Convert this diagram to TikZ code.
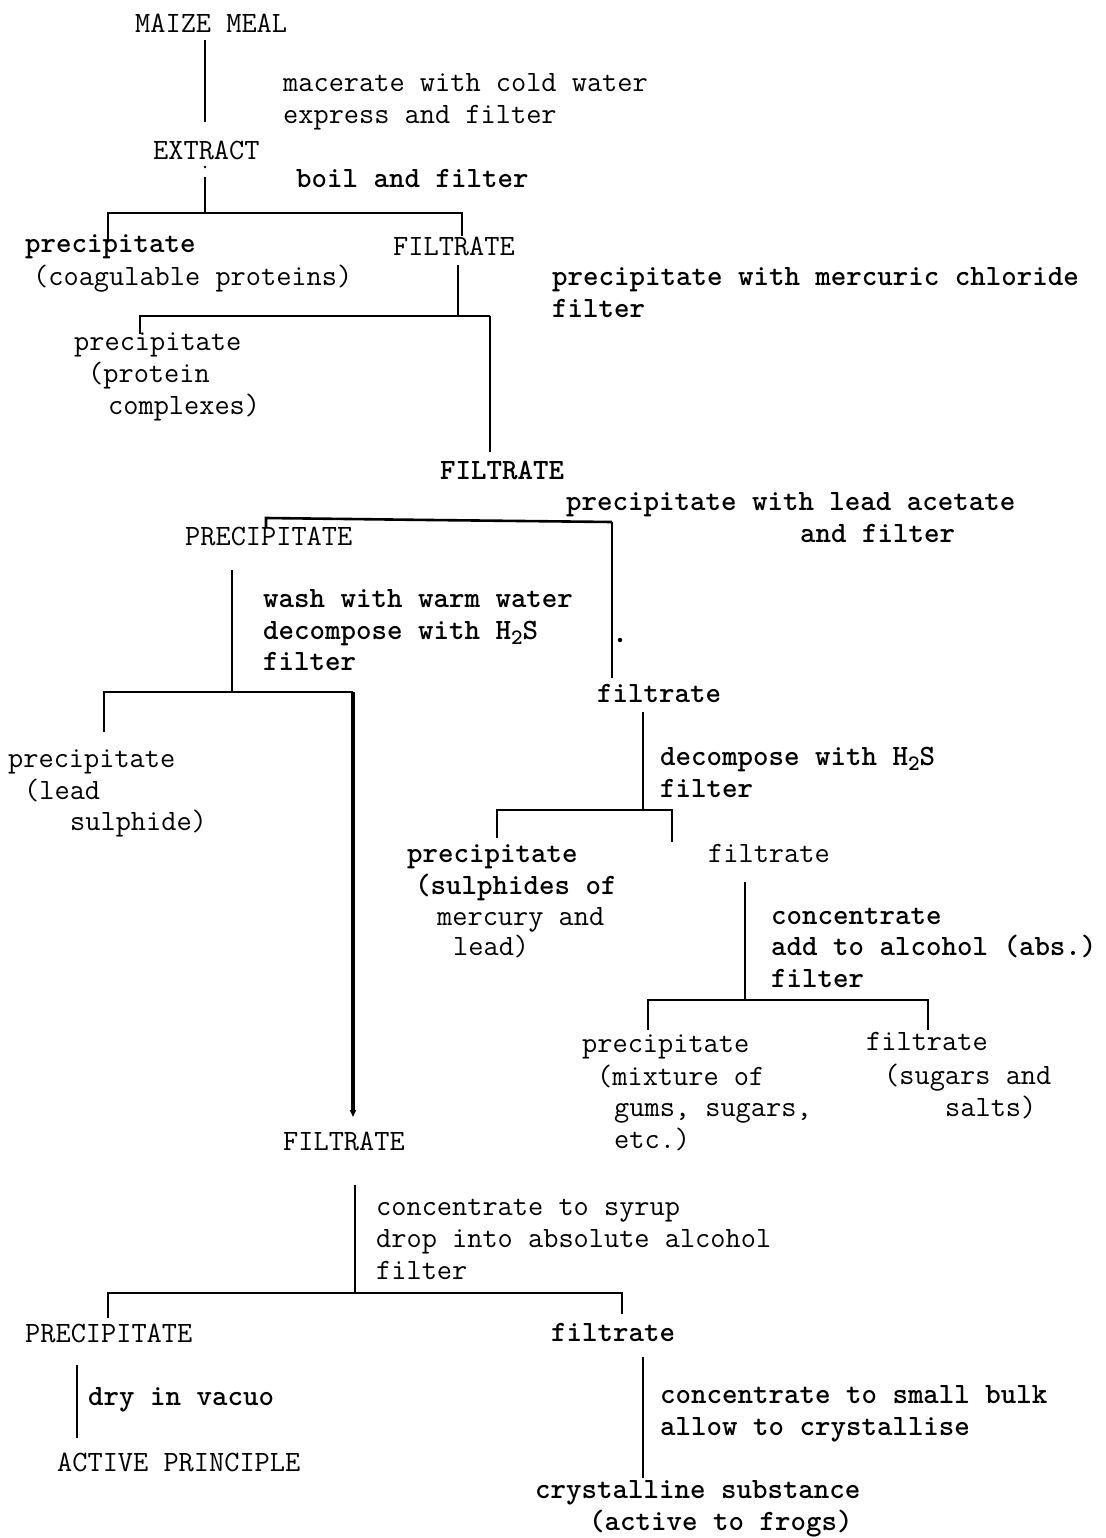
\documentclass[tikz,border=0pt]{standalone}
\usepackage{fontspec}
\usetikzlibrary{arrows.meta}
\newcommand\mysub[1]{\raisebox{-0.4ex}{\fontsize{22}{22}\selectfont #1}}
\begin{document}
\begin{tikzpicture}[x=1pt,y=-1pt,
  t/.style={anchor=base west,inner sep=0pt,font={\ttfamily\fontsize{29.5}{35}\selectfont}},
  tb/.style={anchor=base west,inner sep=0pt,font={\ttfamily\bfseries\fontsize{29.5}{35}\selectfont}},
  ln/.style={line width=2pt},
  bar/.style={line width=2.6pt,line join=miter},
  thick3/.style={line width=3.6pt}]
\fill[white] (0,0) rectangle (1105,1538);
\useasboundingbox (0,0) rectangle (1105,1538);
% texts
\node[t] (maize) at (135,33) {MAIZE MEAL};
\node[t] (s1a) at (283,92) {macerate with cold water};
\node[t] (s1b) at (283,124) {express and filter};
\node[t] (extract) at (153,160) {EXTRACT};
\node[tb] (s2) at (296,188) {boil and filter};
\node[tb] (p1) at (25,252) {precipitate};
\node[t] (p1b) at (33,285) {(coagulable proteins)};
\node[t] (f1) at (393,255) {FILTRATE};
\node[tb] (s3a) at (552,285) {precipitate with mercuric chloride};
\node[tb] (s3b) at (552,317) {filter};
\node[t] (p2) at (74,350) {precipitate};
\node[t] (p2b) at (88,382) {(protein};
\node[t] (p2c) at (108,414) {complexes)};
\node[tb] (f2) at (440,479) {FILTRATE};
\node[tb] (s4a) at (566,510) {precipitate with lead acetate};
\node[tb] (s4b) at (800,542) {and filter};
\node[t] (P3) at (185,545) {PRECIPITATE};
\node[tb] (s5a) at (263,607) {wash with warm water};
\node[tb] (s5b) at (263,639) {decompose with H\mysub{2}S};
\node[tb] (s5c) at (263,670) {filter};
\node[tb] (f3) at (597,702) {filtrate};
\node[tb] (s6a) at (660,765) {decompose with H\mysub{2}S};
\node[tb] (s6b) at (660,797) {filter};
\node[t] (p4) at (8,767) {precipitate};
\node[t] (p4b) at (24,799) {(lead};
\node[t] (p4c) at (70,830) {sulphide)};
\node[tb] (p5) at (407,862) {precipitate};
\node[tb] (p5b) at (415,894) {(sulphides of};
\node[t] (p5c) at (437,925) {mercury and};
\node[t] (p5d) at (453,955) {lead)};
\node[t] (f4) at (708,862) {filtrate};
\node[tb] (s7a) at (771,924) {concentrate};
\node[tb] (s7b) at (771,955) {add to alcohol (abs.)};
\node[tb] (s7c) at (771,987) {filter};
\node[t] (p6) at (582,1052) {precipitate};
\node[t] (p6b) at (597,1085) {(mixture of};
\node[t] (p6c) at (614,1116) {gums, sugars,};
\node[t] (p6d) at (614,1148) {etc.)};
\node[t] (f5) at (866,1050) {filtrate};
\node[t] (f5b) at (884,1084) {(sugars and};
\node[t] (f5c) at (945,1116) {salts)};
\node[t] (F6) at (283,1150) {FILTRATE};
\node[t] (s8a) at (376,1215) {concentrate to syrup};
\node[t] (s8b) at (376,1247) {drop into absolute alcohol};
\node[t] (s8c) at (376,1279) {filter};
\node[t] (P7) at (25,1342) {PRECIPITATE};
\node[tb] (f7) at (551,1341) {filtrate};
\node[tb] (s9) at (88,1405) {dry in vacuo};
\node[t] (active) at (57,1471) {ACTIVE PRINCIPLE};
\node[tb] (s10a) at (660,1403) {concentrate to small bulk};
\node[tb] (s10b) at (660,1435) {allow to crystallise};
\node[tb] (cry) at (535,1498) {crystalline substance};
\node[tb] (cryb) at (589,1530) {(active to frogs)};
% junction coordinates
\coordinate (a1) at (205,40); \coordinate (a2) at (205,122);
\coordinate (b0) at (205,177); \coordinate (b1) at (205,213);
\coordinate (bl) at (108,213); \coordinate (bl2) at (108,240);
\coordinate (br) at (462,213); \coordinate (br2) at (462,236);
\coordinate (c0) at (458,265); \coordinate (c1) at (458,316);
\coordinate (cl) at (140,316); \coordinate (cl2) at (140,334);
\coordinate (cr) at (490,316); \coordinate (cr2) at (490,452);
\coordinate (dl2) at (266,528); \coordinate (dl) at (266,518);
\coordinate (dm) at (430,520);
\coordinate (dr) at (612,522); \coordinate (dr2) at (612,678);
\coordinate (e0) at (232,570); \coordinate (e1) at (232,692);
\coordinate (el) at (104,692); \coordinate (el2) at (104,732);
\coordinate (er) at (353,692); \coordinate (er2) at (353,1117);
\coordinate (g0) at (643,712); \coordinate (g1) at (643,810);
\coordinate (gl) at (497,810); \coordinate (gl2) at (497,838);
\coordinate (gr) at (672,810); \coordinate (gr2) at (672,842);
\coordinate (h0) at (745,882); \coordinate (h1) at (745,1000);
\coordinate (hl) at (648,1000); \coordinate (hl2) at (648,1030);
\coordinate (hr) at (928,1000); \coordinate (hr2) at (928,1030);
\coordinate (k0) at (355,1185); \coordinate (k1) at (355,1293);
\coordinate (kl) at (108,1293); \coordinate (kl2) at (108,1318);
\coordinate (kr) at (622,1293); \coordinate (kr2) at (622,1314);
\coordinate (m0) at (77,1365); \coordinate (m1) at (77,1438);
\coordinate (n0) at (643,1357); \coordinate (n1) at (643,1478);
% connectors
\draw[ln] (a1) -- (a2);
\fill (205,167) circle (1.3);
\draw[ln] (b0) -- (b1);
\draw[bar] (bl2) -- (bl) -- (br) -- (br2);
\draw[ln] (c0) -- (c1);
\draw[bar] (cl2) -- (cl) -- (cr);
\draw[ln] (cr) -- (cr2);
\draw[bar] (dl2) -- (dl) -- (dm) -- (dr);
\draw[ln] (dr) -- (dr2);
\fill (620,640) circle (2.2);
\draw[ln] (e0) -- (e1);
\draw[bar] (el2) -- (el) -- (er);
\draw[thick3,-{Triangle[width=6pt,length=7pt]}] (er) -- (er2);
\draw[ln] (g0) -- (g1);
\draw[bar] (gl2) -- (gl) -- (gr) -- (gr2);
\draw[ln] (h0) -- (h1);
\draw[bar] (hl2) -- (hl) -- (hr) -- (hr2);
\draw[ln] (k0) -- (k1);
\draw[bar] (kl2) -- (kl) -- (kr) -- (kr2);
\draw[ln] (m0) -- (m1);
\draw[ln] (n0) -- (n1);
\end{tikzpicture}
\end{document}
